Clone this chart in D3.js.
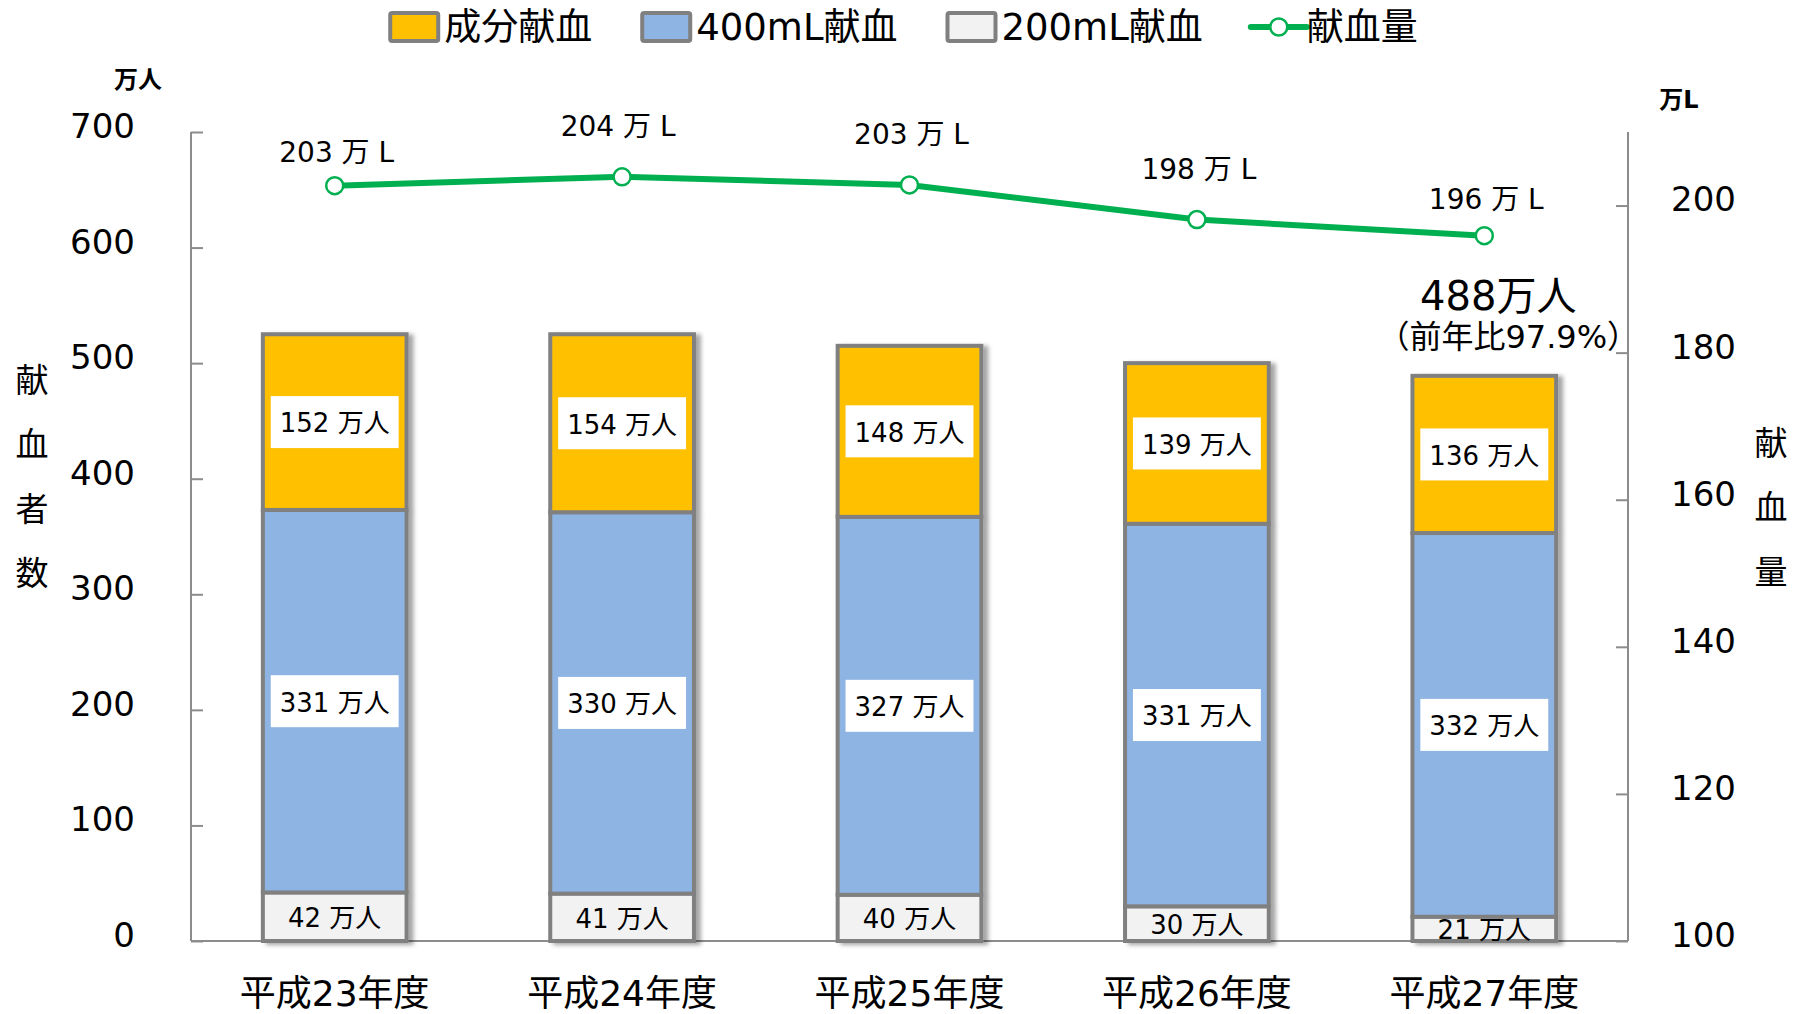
<!DOCTYPE html>
<html><head><meta charset="utf-8">
<script src="https://cdn.jsdelivr.net/npm/d3@7"></script>
<style>
html,body{margin:0;padding:0;background:#fff;}
svg{display:block;font-family:"DejaVu Sans","Noto Sans CJK JP",sans-serif;}
</style></head>
<body>
<svg id="chart" width="1805" height="1014"></svg>
<script>
const categories = ["平成23年度","平成24年度","平成25年度","平成26年度","平成27年度"];
const componentDonation = [152,154,148,139,136];
const donation400 = [331,330,327,331,332];
const donation200 = [42,41,40,30,21];
const bloodVolume = [202.7,203.9,202.8,198.1,195.9];
const leftTicks = [0,100,200,300,400,500,600,700];
const rightTicks = [100,120,140,160,180,200];
const seriesNames = ["成分献血","400mL献血","200mL献血","献血量"];
const annotationMain = "488万人";
const annotationSub = "（前年比97.9%）";

const W = 1805, H = 1014;
const M = {left:191, right:W-1628, top:132, bottom:H-941};
const svg = d3.select("#chart");
const defs = svg.append("defs");
const f = defs.append("filter").attr("id","sh").attr("x","-10%").attr("y","-10%").attr("width","130%").attr("height","120%");
f.append("feDropShadow").attr("dx",5).attr("dy",2).attr("stdDeviation",2.2).attr("flood-color","#000").attr("flood-opacity",0.35);

const x = d3.scaleBand().domain(categories).range([M.left, W-M.right]).paddingInner(0.5).paddingOuter(0.25);
const yL = d3.scaleLinear().domain([0,700]).range([H-M.bottom, M.top]);
const yR = d3.scaleLinear().domain([100,210]).range([H-M.bottom, M.top]);

const colors = {c200:"#f2f2f2", c400:"#8eb4e3", comp:"#ffc000", line:"#00b050"};
const axisGray = "#8c8c8c";

// axes
const gL = svg.append("g").attr("transform",`translate(${M.left},0)`)
  .call(d3.axisLeft(yL).tickValues(leftTicks).tickSize(-12).tickPadding(56).tickFormat(d3.format("d")));
const gR = svg.append("g").attr("transform",`translate(${W-M.right},0)`)
  .call(d3.axisRight(yR).tickValues(rightTicks).tickSize(-12).tickPadding(43).tickFormat(d3.format("d")));
[gL,gR].forEach(g=>{
  g.select(".domain").attr("stroke",axisGray).attr("stroke-width",2);
  g.selectAll(".tick line").attr("stroke",axisGray).attr("stroke-width",2);
  g.selectAll(".tick text").attr("font-size",34).attr("fill","#000").attr("font-family","DejaVu Sans").attr("dy","0.16em");
});
gL.select(".domain").attr("d",`M0,${yL(700)}V${yL(0)}`);
gR.select(".domain").attr("d",`M0,${yR(210)}V${yR(100)}`);
// baseline
svg.append("line").attr("x1",M.left).attr("x2",W-M.right).attr("y1",yL(0)).attr("y2",yL(0))
  .attr("stroke",axisGray).attr("stroke-width",2);

// bars
const stackData = categories.map((c,i)=>({cat:c, s:[
  {key:"c200", v:donation200[i], fill:colors.c200},
  {key:"c400", v:donation400[i], fill:colors.c400},
  {key:"comp", v:componentDonation[i], fill:colors.comp}]}));
stackData.forEach(d=>{let acc=0; d.s.forEach(s=>{s.y0=acc; acc+=s.v; s.y1=acc;}); d.total=acc;});

const barG = svg.append("g");
stackData.forEach(d=>{
  const g = barG.append("g").attr("filter","url(#sh)");
  g.selectAll("rect").data(d.s).join("rect")
    .attr("x",x(d.cat)).attr("width",x.bandwidth())
    .attr("y",s=>yL(s.y1)).attr("height",s=>yL(s.y0)-yL(s.y1))
    .attr("fill",s=>s.fill).attr("stroke","#808080").attr("stroke-width",4);
});
// bar labels
stackData.forEach(d=>{
  d.s.forEach(s=>{
    const cx = x(d.cat)+x.bandwidth()/2, cy = (yL(s.y0)+yL(s.y1))/2;
    const t = svg.append("text").attr("x",cx).attr("y",cy).attr("dy","0.4em")
      .attr("text-anchor","middle").attr("font-size",26).attr("fill","#000")
      .text(`${s.v} 万人`);
    if (s.key!=="c200") {
      const w = t.node().getComputedTextLength()+18;
      svg.insert("rect", () => t.node()).attr("x",cx-w/2).attr("y",cy-26).attr("width",w).attr("height",52).attr("fill","#fff");
    }
  });
});

// line
const pts = categories.map((c,i)=>({cat:c, v:bloodVolume[i]}));
const lx = d=>x(d.cat)+x.bandwidth()/2;
svg.append("path").datum(pts).attr("fill","none").attr("stroke",colors.line).attr("stroke-width",6)
  .attr("d", d3.line().x(lx).y(d=>yR(d.v)));
svg.selectAll("circle.pt").data(pts).join("circle").attr("class","pt")
  .attr("cx",lx).attr("cy",d=>yR(d.v)).attr("r",8.5)
  .attr("fill","#fff").attr("stroke",colors.line).attr("stroke-width",2.5);
const lineLabelDy = [-34,-51,-51,-51,-37];
svg.selectAll("text.vl").data(pts).join("text").attr("class","vl")
  .attr("x",(d,i)=>lx(d)+(i===1?-4:2)).attr("y",(d,i)=>yR(d.v)+lineLabelDy[i]).attr("dy","0.36em")
  .attr("text-anchor","middle").attr("font-size",28).attr("fill","#000")
  .text(d=>`${d3.format(".0f")(d.v)} 万 L`);

// annotation
const last = stackData[stackData.length-1];
const ax = x(last.cat)+x.bandwidth()/2+14;
svg.append("text").attr("x",ax).attr("y",yL(last.total)-80).attr("dy","0.36em")
  .attr("text-anchor","middle").attr("font-size",40).text(annotationMain);
svg.append("text").attr("x",ax+10).attr("y",yL(last.total)-39).attr("dy","0.36em")
  .attr("text-anchor","middle").attr("font-size",32).text(annotationSub);

// x labels
svg.selectAll("text.xl").data(categories).join("text").attr("class","xl")
  .attr("x",d=>x(d)+x.bandwidth()/2).attr("y",993).attr("dy","0.35em")
  .attr("text-anchor","middle").attr("font-size",36).text(d=>d);

// units
svg.append("text").attr("x",138).attr("y",79).attr("dy","0.36em").attr("text-anchor","middle")
  .attr("font-size",24).attr("font-weight","bold").text("万人");
svg.append("text").attr("x",1679).attr("y",99).attr("dy","0.36em").attr("text-anchor","middle")
  .attr("font-size",24).attr("font-weight","bold").text("万L");

// vertical axis titles
Array.from("献血者数").forEach((ch,i)=>{
  svg.append("text").attr("x",32).attr("y",380+i*64.5).attr("dy","0.36em").attr("text-anchor","middle")
    .attr("font-size",33).text(ch);
});
Array.from("献血量").forEach((ch,i)=>{
  svg.append("text").attr("x",1771).attr("y",443+i*64.5).attr("dy","0.36em").attr("text-anchor","middle")
    .attr("font-size",33).text(ch);
});

// legend
const legend = svg.append("g");
const legendItems = [
  {name:seriesNames[0], type:"rect", fill:colors.comp},
  {name:seriesNames[1], type:"rect", fill:colors.c400},
  {name:seriesNames[2], type:"rect", fill:colors.c200},
  {name:seriesNames[3], type:"line"}];
let lxPos = 0;
const ly = 27;
legendItems.forEach(it=>{
  const g = legend.append("g").attr("transform",`translate(${lxPos},0)`);
  if (it.type==="rect") {
    g.append("rect").attr("x",2).attr("y",ly-14).attr("width",48).attr("height",28)
      .attr("fill",it.fill).attr("stroke","#808080").attr("stroke-width",4).attr("rx",2);
  } else {
    g.append("line").attr("x1",0).attr("x2",56).attr("y1",ly).attr("y2",ly)
      .attr("stroke",colors.line).attr("stroke-width",6).attr("stroke-linecap","round");
    g.append("circle").attr("cx",28).attr("cy",ly).attr("r",8.5).attr("fill","#fff")
      .attr("stroke",colors.line).attr("stroke-width",2.5);
  }
  const t = g.append("text").attr("x",56).attr("y",ly).attr("dy","0.36em").attr("font-size",37).text(it.name);
  lxPos += 56 + t.node().getComputedTextLength() + 48;
});
const lw = lxPos - 48;
legend.attr("transform",`translate(${903-lw/2},0)`);
</script>
</body></html>
